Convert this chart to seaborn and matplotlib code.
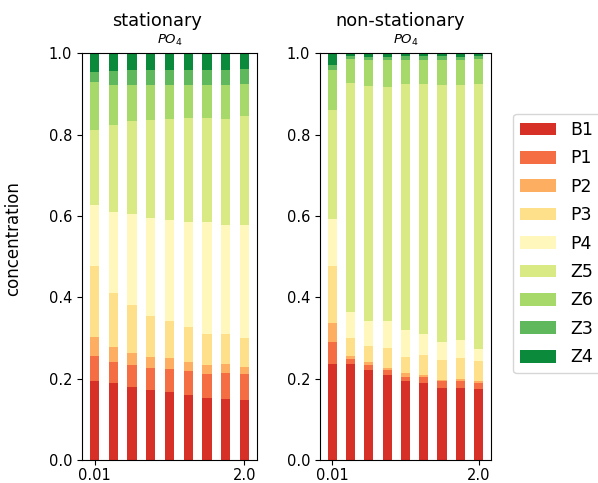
import numpy as np
import pandas as pd
import seaborn as sns
import matplotlib.pyplot as plt
from matplotlib.patches import Patch

species = ['B1', 'P1', 'P2', 'P3', 'P4', 'Z5', 'Z6', 'Z3', 'Z4']
colors = ['#d73027', '#f46d43', '#fdae61', '#fee08b', '#fff7bc',
          '#d9ea84', '#a6d96a', '#5fb95c', '#0b8a3c']
tick_labels = ['0.01', '2.0']

# fraction of each group, 9 runs per panel (bottom to top)
stationary = {
    'B1': [0.194, 0.189, 0.180, 0.172, 0.167, 0.161, 0.152, 0.149, 0.147],
    'P1': [0.062, 0.053, 0.054, 0.054, 0.057, 0.057, 0.059, 0.066, 0.064],
    'P2': [0.047, 0.035, 0.030, 0.027, 0.027, 0.024, 0.022, 0.021, 0.018],
    'P3': [0.175, 0.134, 0.116, 0.102, 0.090, 0.085, 0.077, 0.074, 0.072],
    'P4': [0.149, 0.199, 0.224, 0.241, 0.248, 0.257, 0.274, 0.267, 0.276],
    'Z5': [0.183, 0.213, 0.229, 0.239, 0.249, 0.256, 0.256, 0.261, 0.268],
    'Z6': [0.119, 0.099, 0.089, 0.087, 0.084, 0.082, 0.082, 0.084, 0.078],
    'Z3': [0.024, 0.033, 0.037, 0.037, 0.037, 0.037, 0.037, 0.037, 0.037],
    'Z4': [0.047, 0.045, 0.041, 0.041, 0.041, 0.041, 0.041, 0.041, 0.040],
}
non_stationary = {
    'B1': [0.236, 0.237, 0.220, 0.210, 0.195, 0.190, 0.178, 0.177, 0.174],
    'P1': [0.054, 0.012, 0.014, 0.010, 0.010, 0.014, 0.015, 0.016, 0.016],
    'P2': [0.046, 0.007, 0.007, 0.006, 0.008, 0.005, 0.004, 0.007, 0.003],
    'P3': [0.140, 0.044, 0.039, 0.050, 0.040, 0.048, 0.050, 0.051, 0.050],
    'P4': [0.117, 0.064, 0.061, 0.065, 0.066, 0.053, 0.044, 0.044, 0.030],
    'Z5': [0.268, 0.562, 0.579, 0.576, 0.606, 0.613, 0.630, 0.626, 0.652],
    'Z6': [0.097, 0.060, 0.062, 0.065, 0.059, 0.061, 0.063, 0.061, 0.061],
    'Z3': [0.014, 0.007, 0.008, 0.008, 0.008, 0.008, 0.008, 0.008, 0.006],
    'Z4': [0.028, 0.007, 0.010, 0.010, 0.008, 0.008, 0.008, 0.010, 0.008],
}

fig = plt.figure(figsize=(5.98, 4.83), dpi=100)
ax1 = fig.add_axes([0.137, 0.0476, 0.293, 0.8424])
ax2 = fig.add_axes([0.535, 0.0476, 0.286, 0.8424])


def stacked(ax, data, title, tx):
    df = pd.DataFrame(data)
    cum = df[species].cumsum(axis=1)
    cum['run'] = np.arange(len(df))
    # draw the tallest stack first, then cover it layer by layer
    for sp, col in reversed(list(zip(species, colors))):
        sns.barplot(data=cum, x='run', y=sp, color=col, saturation=1,
                    width=0.5, linewidth=0, ax=ax)
    ax.set_ylim(0, 1)
    ax.set_xlim(-0.675, 8.675)
    ax.set_xticks([0, 8], tick_labels)
    ax.set_xlabel('')
    ax.set_ylabel('')
    ax.set_yticks([0, 0.2, 0.4, 0.6, 0.8, 1.0])
    ax.tick_params(labelsize=10.5)
    ax.tick_params(axis='x', pad=2)
    ax.set_title('$PO_4$', fontsize=9.5, pad=7)
    ax.text(tx, 1.066, title, transform=ax.transAxes, ha='center',
            va='baseline', fontsize=12.8)


stacked(ax1, stationary, 'stationary', 0.431)
stacked(ax2, non_stationary, 'non-stationary', 0.468)

ax1.set_ylabel('concentration', fontsize=12)
ax1.yaxis.set_label_coords(-0.34, 0.544)

handles = [Patch(facecolor=c, label=s) for s, c in zip(species, colors)]
fig.legend(handles=handles, loc='upper left', bbox_to_anchor=(0.858, 0.764),
           borderaxespad=0, fontsize=12.5, labelspacing=0.6,
           handlelength=2.1, handleheight=0.75)

fig.savefig('out.png', dpi=100)
